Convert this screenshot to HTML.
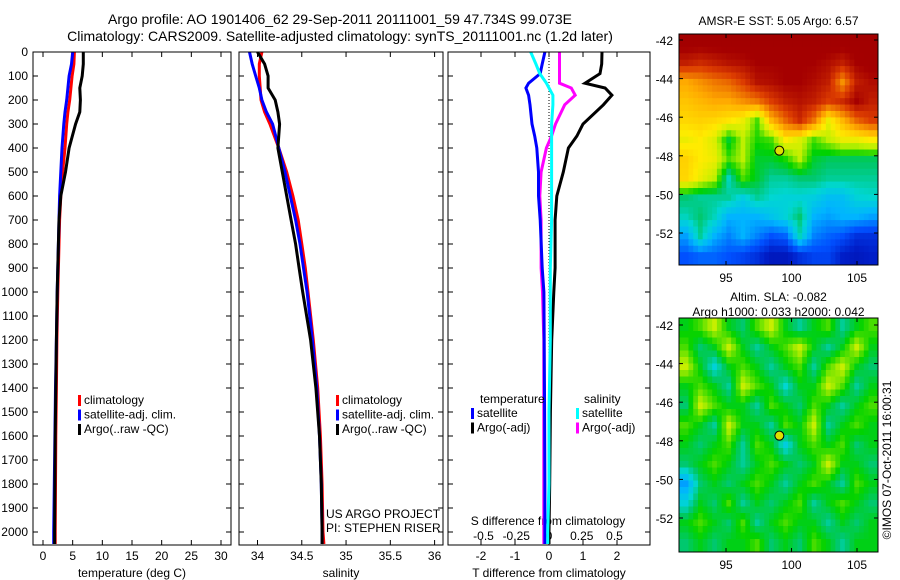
<!DOCTYPE html>
<html><head><meta charset="utf-8"><style>
body{margin:0;background:#fff;}
svg{display:block;font-family:"Liberation Sans",sans-serif;}
text{fill:#000;}
</style></head><body>
<svg id="fig" width="900" height="580" viewBox="0 0 900 580">
<rect width="900" height="580" fill="#fff"/>
<text x="340" y="24" font-size="14" text-anchor="middle">Argo profile: AO 1901406_62 29-Sep-2011 20111001_59 47.734S 99.073E</text>
<text x="340" y="41" font-size="14" text-anchor="middle">Climatology: CARS2009. Satellite-adjusted climatology: synTS_20111001.nc (1.2d later)</text>
<g id="g1"></g>
<g id="g2"></g>
<g id="g3"></g>
<g id="m1"></g>
<g id="m2"></g>
<text transform="translate(891,460) rotate(-90)" font-size="12" text-anchor="middle">©IMOS 07-Oct-2011 16:00:31</text>
</svg>
<script>
const depths=[0,50,100,150,200,250,300,400,500,600,700,800,900,1000,1200,1400,1600,1800,2000,2050];
const tempClim=[5.3,5.2,4.9,4.7,4.5,4.2,4.0,3.7,3.3,3.0,2.8,2.7,2.6,2.5,2.35,2.25,2.15,2.1,2.05,2.05];
const tempSat=[5.0,4.8,4.4,4.2,4.0,3.7,3.5,3.2,3.0,2.8,2.7,2.6,2.5,2.4,2.25,2.1,2.0,1.9,1.8,1.8];
const tempArgo=[6.8,6.8,6.6,6.2,6.3,6.2,5.5,4.4,3.8,3.0,2.7,2.6,2.5,2.4,2.25,2.15,2.05,2.0,1.95,1.95];
const salClim=[34.05,34.02,34.02,34.03,34.04,34.08,34.14,34.24,34.33,34.40,34.46,34.50,34.54,34.57,34.63,34.68,34.71,34.73,34.74,34.75];
const salSat=[33.91,33.94,33.98,34.02,34.05,34.10,34.17,34.24,34.31,34.37,34.43,34.48,34.52,34.56,34.62,34.67,34.70,34.72,34.73,34.73];
const salArgo=[34.0,34.08,34.12,34.12,34.2,34.23,34.25,34.23,34.28,34.33,34.38,34.43,34.47,34.51,34.6,34.66,34.7,34.72,34.73,34.73];
const diffDepths=[0,50,90,130,150,180,220,300,350,400,500,600,700,900,1000,1200,1500,1800,2000,2050];
const dTsat=[-0.12,-0.2,-0.26,-0.6,-0.68,-0.6,-0.56,-0.5,-0.42,-0.36,-0.31,-0.31,-0.26,-0.2,-0.15,-0.14,-0.13,-0.12,-0.12,-0.12];
const dTargo=[1.56,1.55,1.5,1.06,1.65,1.85,1.6,1.0,0.82,0.57,0.42,0.23,0.18,0.18,0.14,0.08,0.04,0.02,0.0,0.0];
const dSsat=[-0.14,-0.1,-0.07,-0.02,0.0,0.03,0.03,0.02,0.02,0.02,0.02,0.02,0.02,0.01,0.01,0.01,0.0,0.0,-0.01,-0.01];
const dSargo=[0.08,0.08,0.08,0.08,0.17,0.2,0.12,0.05,0.02,-0.02,-0.06,-0.07,-0.06,-0.06,-0.05,-0.04,-0.04,-0.04,-0.04,-0.04];
const depthTicks=[0,100,200,300,400,500,600,700,800,900,1000,1100,1200,1300,1400,1500,1600,1700,1800,1900,2000];
const tempTicks=[0,5,10,15,20,25,30];
const salTicks=[34,34.5,35,35.5,36];
const dTTicks=[-2,-1,0,1,2];
const dSTicks=[-0.5,-0.25,0,0.25,0.5];
const dSTickLabels=['-0.5','-0.25','0','0.25','0.5'];
const lats=[-42,-44,-46,-48,-50,-52];
const lons=[95,100,105];
const sstGrid=[
[.97,.97,.97,.97,.97,.97,.97,.97,.97,.97,.97,.97,.97,.97],
[.9,.88,.9,.92,.93,.95,.95,.95,.95,.95,.93,.9,.95,.97],
[.72,.75,.78,.8,.85,.92,.93,.95,.95,.93,.9,.75,.9,.93],
[.68,.7,.72,.72,.75,.78,.85,.9,.92,.9,.85,.88,.95,.9],
[.65,.66,.65,.63,.6,.5,.7,.8,.88,.78,.6,.7,.8,.85],
[.6,.62,.58,.45,.55,.48,.5,.62,.58,.5,.55,.6,.6,.62],
[.66,.62,.6,.5,.55,.45,.45,.48,.55,.45,.43,.43,.43,.43],
[.65,.6,.55,.38,.5,.45,.4,.4,.42,.42,.4,.4,.4,.4],
[.42,.4,.4,.4,.35,.4,.37,.36,.36,.35,.32,.32,.36,.37],
[.38,.42,.38,.3,.3,.3,.33,.36,.42,.3,.28,.3,.3,.28],
[.28,.4,.3,.25,.3,.25,.2,.22,.38,.25,.22,.2,.15,.15],
[.2,.22,.22,.2,.18,.15,.1,.1,.15,.18,.18,.12,.1,.12]];
const slaGrid=[
[.46,.5,.56,.46,.42,.5,.56,.46,.4,.46,.5,.4,.46,.5],
[.5,.42,.46,.56,.46,.4,.46,.5,.56,.46,.4,.46,.56,.46],
[.56,.46,.36,.46,.5,.46,.4,.46,.5,.4,.5,.56,.46,.42],
[.46,.5,.46,.4,.56,.5,.46,.37,.46,.46,.56,.5,.4,.46],
[.42,.56,.5,.46,.46,.4,.5,.46,.42,.5,.46,.4,.46,.5],
[.5,.46,.4,.56,.46,.46,.4,.5,.46,.56,.4,.46,.5,.46],
[.46,.42,.46,.5,.4,.5,.46,.35,.46,.5,.46,.5,.42,.46],
[.42,.46,.5,.46,.4,.46,.5,.46,.42,.46,.56,.46,.46,.42],
[.28,.42,.46,.42,.46,.5,.46,.4,.46,.5,.46,.4,.5,.46],
[.36,.46,.42,.5,.4,.46,.42,.46,.5,.4,.46,.5,.46,.42],
[.46,.5,.46,.42,.5,.4,.46,.5,.46,.46,.4,.46,.42,.46],
[.42,.46,.42,.46,.46,.5,.42,.46,.42,.5,.46,.4,.46,.46]];
const NS='http://www.w3.org/2000/svg';
function mk(p,tag,attrs){const e=document.createElementNS(NS,tag);for(const k in attrs)e.setAttribute(k,attrs[k]);p.appendChild(e);return e;}
const Y0=52,Ypx=0.24,TOP=52,BOT=545;
const yD=d=>Y0+d*Ypx;
function panel(g,x0,x1,xs,ticks,labels,xlabel,showY){
  for(const t of depthTicks){const y=yD(t);
    mk(g,'line',{x1:x0,x2:x0+5,y1:y,y2:y,stroke:'#000'});
    mk(g,'line',{x1:x1-5,x2:x1,y1:y,y2:y,stroke:'#000'});
    if(showY){const tx=mk(g,'text',{x:x0-5,y:y+4,'font-size':12,'text-anchor':'end'});tx.textContent=t;
      
      }
  }
  ticks.forEach((t,i)=>{const x=xs(t);
    mk(g,'line',{x1:x,x2:x,y1:TOP,y2:TOP+5,stroke:'#000'});
    mk(g,'line',{x1:x,x2:x,y1:BOT-5,y2:BOT,stroke:'#000'});
    const tx=mk(g,'text',{x:x,y:560,'font-size':12,'text-anchor':'middle'});tx.textContent=labels[i];
    
    
  });
  const xl=mk(g,'text',{x:(x0+x1)/2,y:577,'font-size':12,'text-anchor':'middle'});xl.textContent=xlabel;
  
  
}
function frame(g,x0,x1){const r=mk(g,'rect',{x:x0,y:TOP,width:x1-x0,height:BOT-TOP,fill:'none',stroke:'#000'});
  
  }
function line(g,xs,vals,ds,col,name,clipId){
  const pts=vals.map((v,i)=>xs(v).toFixed(1)+','+yD(ds[i]).toFixed(1)).join(' ');
  const p=mk(g,'polyline',{points:pts,fill:'none',stroke:col,'stroke-width':3,'stroke-linejoin':'miter','clip-path':'url(#'+clipId+')'});
  
  
}
function clip(id,x0,x1){const svg=document.getElementById('fig');let d=svg.querySelector('defs')||mk(svg,'defs',{});
  const c=mk(d,'clipPath',{id:id});mk(c,'rect',{x:x0,y:TOP,width:x1-x0,height:BOT-TOP});}
function legend(g,x,y,items){items.forEach((it,i)=>{
  const r=mk(g,'rect',{x:x,y:y+i*14.5-9,width:3,height:11,fill:it[0]});
  
  
  const t=mk(g,'text',{x:x+6,y:y+i*14.5,'font-size':12});t.textContent=it[1];
  
  });}
// panel 1
const g1=document.getElementById('g1');
const xT=v=>43+v*(221-43)/30;
clip('c1',33,231);
panel(g1,33,231,xT,tempTicks,tempTicks.map(String),'temperature (deg C)',true);
line(g1,xT,tempClim,depths,'#f00','temp-climatology-line','c1');
line(g1,xT,tempSat,depths,'#00f','temp-satellite-line','c1');
line(g1,xT,tempArgo,depths,'#000','temp-argo-line','c1');
frame(g1,33,231);
legend(g1,78,404,[['#f00','climatology'],['#00f','satellite-adj. clim.'],['#000','Argo(..raw -QC)']]);
// panel 2
const g2=document.getElementById('g2');
const xS=v=>257.5+(v-34)*(434.6-257.5)/2;
clip('c2',239,443);
panel(g2,239,443,xS,salTicks,['34','34.5','35','35.5','36'],'salinity',false);
line(g2,xS,salClim,depths,'#f00','sal-climatology-line','c2');
line(g2,xS,salSat,depths,'#00f','sal-satellite-line','c2');
line(g2,xS,salArgo,depths,'#000','sal-argo-line','c2');
frame(g2,239,443);
legend(g2,336,404,[['#f00','climatology'],['#00f','satellite-adj. clim.'],['#000','Argo(..raw -QC)']]);
let t=mk(g2,'text',{x:326,y:518,'font-size':12});t.textContent='US ARGO PROJECT';


t=mk(g2,'text',{x:326,y:532,'font-size':12});t.textContent='PI: STEPHEN RISER';


// panel 3
const g3=document.getElementById('g3');
const xdT=v=>549+v*34;
const xdS=v=>549+v*131;
clip('c3',448,650);
panel(g3,448,650,xdT,dTTicks,dTTicks.map(String),'T difference from climatology',false);
dSTicks.forEach((v,i)=>{const tx=mk(g3,'text',{x:xdS(v),y:540,'font-size':12,'text-anchor':'middle'});tx.textContent=dSTickLabels[i];
  
  });
t=mk(g3,'text',{x:548,y:525,'font-size':12,'text-anchor':'middle'});t.textContent='S difference from climatology';


mk(g3,'line',{x1:549,x2:549,y1:TOP,y2:BOT,stroke:'#000','stroke-dasharray':'1,2'});
line(g3,xdT,dTargo,diffDepths,'#000','dT-argo-line','c3');
line(g3,xdS,dSargo,diffDepths,'#f0f','dS-argo-line','c3');
line(g3,xdT,dTsat,diffDepths,'#00f','dT-satellite-line','c3');
line(g3,xdS,dSsat,diffDepths,'#0ff','dS-satellite-line','c3');
frame(g3,448,650);
t=mk(g3,'text',{x:480,y:403,'font-size':12});t.textContent='temperature';


t=mk(g3,'text',{x:584,y:403,'font-size':12});t.textContent='salinity';


legend(g3,471,417,[['#00f','satellite'],['#000','Argo(-adj)']]);
legend(g3,576,417,[['#0ff','satellite'],['#f0f','Argo(-adj)']]);
// maps
const cmapStops=[[0,[0,0,140]],[.12,[0,30,200]],[.2,[0,80,255]],[.3,[0,180,255]],[.37,[0,215,210]],[.42,[0,200,110]],[.47,[0,210,0]],[.55,[190,240,0]],[.62,[255,235,0]],[.72,[255,170,0]],[.85,[220,60,0]],[.95,[165,0,0]],[1,[160,0,0]]];
function jet(v){v=Math.max(0,Math.min(1,v));
  for(let k=1;k<cmapStops.length;k++){const a=cmapStops[k-1],b=cmapStops[k];
    if(v<=b[0]){const f=(v-a[0])/(b[0]-a[0]);const c=a[1].map((x,i)=>Math.round(x+(b[1][i]-x)*f));return 'rgb('+c.join(',')+')';}}
  return 'rgb(160,0,0)';}
function map(g,grid,x0,y0,w,h,latY,title,title2,clipId){
  const svg=document.getElementById('fig');const d=svg.querySelector('defs');
  const c=mk(d,'clipPath',{id:clipId});mk(c,'rect',{x:x0,y:y0,width:w,height:h});
  const R=grid.length,C=grid[0].length,S=3,cw=w/(C*S),ch=h/(R*S);
  const cells=mk(g,'g',{'clip-path':'url(#'+clipId+')'});
  for(let i=0;i<R*S;i++)for(let j=0;j<C*S;j++){
    const fy=Math.max(0,Math.min(R-1,(i+0.5)/S-0.5)),fx=Math.max(0,Math.min(C-1,(j+0.5)/S-0.5));
    const i0=Math.floor(fy),j0=Math.floor(fx),i1=Math.min(R-1,i0+1),j1=Math.min(C-1,j0+1),a=fy-i0,b=fx-j0;
    const v=grid[i0][j0]*(1-a)*(1-b)+grid[i0][j1]*(1-a)*b+grid[i1][j0]*a*(1-b)+grid[i1][j1]*a*b;
    const r=mk(cells,'rect',{x:(x0+j*cw).toFixed(2),y:(y0+i*ch).toFixed(2),width:(cw+0.6).toFixed(2),height:(ch+0.6).toFixed(2),fill:jet(v)});
    
    
  }
  const lonX=v=>726+(v-95)*13.1;
  const latPx=v=>latY+(-42-v)*19.3;
  mk(g,'rect',{x:x0,y:y0,width:w,height:h,fill:'none',stroke:'#000'});
  lats.forEach(l=>{const y=latPx(l);mk(g,'line',{x1:x0,x2:x0+4,y1:y,y2:y,stroke:'#000'});mk(g,'line',{x1:x0+w-4,x2:x0+w,y1:y,y2:y,stroke:'#000'});
    const tx=mk(g,'text',{x:x0-6,y:y+5,'font-size':12,'text-anchor':'end'});tx.textContent=l;
    
    });
  lons.forEach(l=>{const x=lonX(l);mk(g,'line',{x1:x,x2:x,y1:y0,y2:y0+4,stroke:'#000'});mk(g,'line',{x1:x,x2:x,y1:y0+h-4,y2:y0+h,stroke:'#000'});
    const tx=mk(g,'text',{x:x,y:y0+h+17,'font-size':12,'text-anchor':'middle'});tx.textContent=l;
    
    });
  const m=mk(g,'circle',{cx:lonX(99.073),cy:latPx(-47.734),r:4.5,fill:'#dde000',stroke:'#000'});
  
  
  title.forEach((s,k)=>{const tx=mk(g,'text',{x:x0+w/2,y:(k===0?(title2):(title2+15)),'font-size':12,'text-anchor':'middle'});tx.textContent=s;
    
    });
}
map(document.getElementById('m1'),sstGrid,679,34,199,231,40,['AMSR-E SST: 5.05 Argo: 6.57'],25,'cm1');
map(document.getElementById('m2'),slaGrid,679,318,199,234,325,['Altim. SLA: -0.082','Argo h1000: 0.033 h2000: 0.042'],301,'cm2');
</script>
</body></html>
